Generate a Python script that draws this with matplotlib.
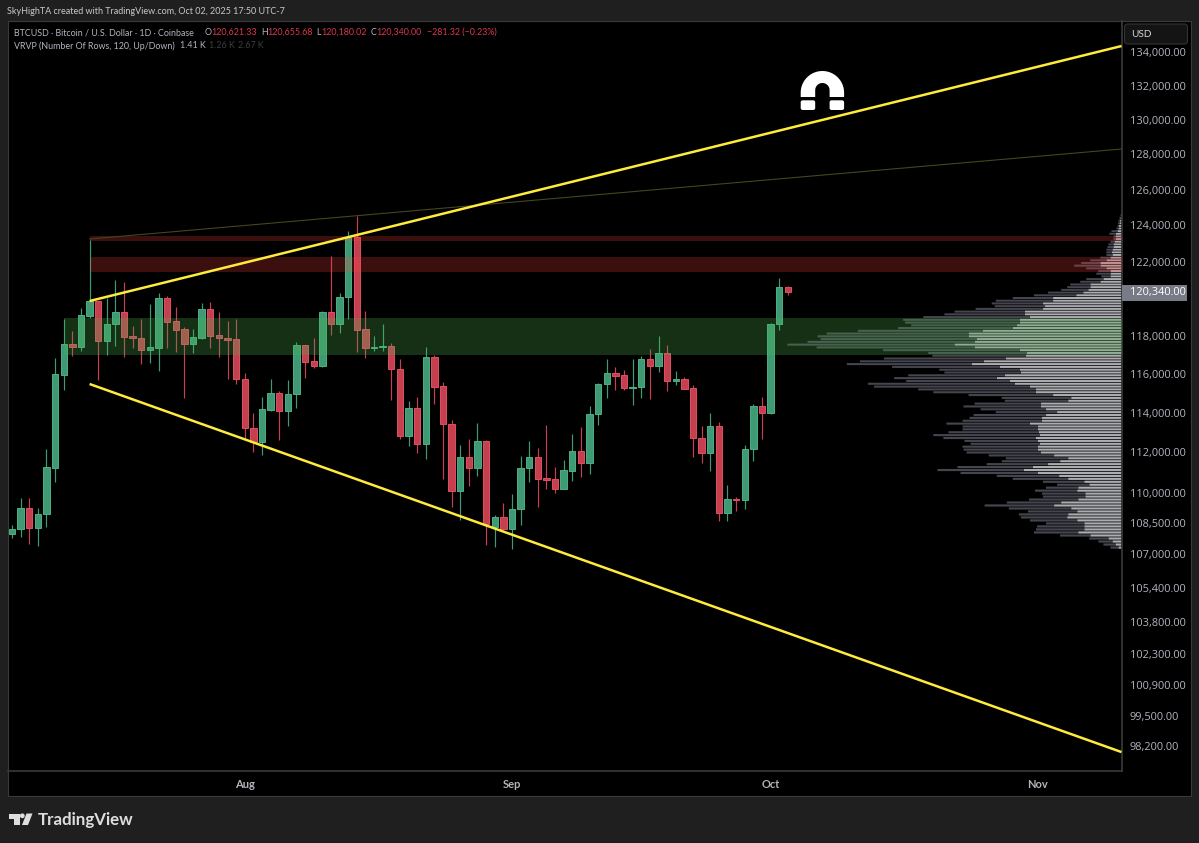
import numpy as np
import pandas as pd
import matplotlib
matplotlib.use("Agg")
import matplotlib.pyplot as plt
import matplotlib.dates as mdates
from matplotlib.patches import Rectangle, Circle, Polygon, FancyBboxPatch
from matplotlib.transforms import Affine2D

W, H = 1199, 843
BG = "#1f1f1f"
GREEN_BODY, GREEN_EDGE, GREEN_WICK = "#3f9a74", "#4cb088", "#3f9c72"
RED_BODY, RED_EDGE, RED_WICK = "#c4404f", "#e24e62", "#c83e52"
YELLOW = "#ffeb3b"

start_date = "2025-07-05"
opens = [107990,108215,109225,108250,108930,111235,115965,117570,117430,119055,
         119840,117710,118610,119250,117975,117890,117255,117380,120000,118770,
         118350,117590,117905,119410,118060,117905,117820,115725,113210,112500,
         114145,115020,114075,114965,117500,116660,116435,119250,118645,120075,
         123345,118350,117375,117430,117450,116260,112820,114265,112435,116870,
         115360,113430,110075,111750,111235,112553,108330,108783,108200,109206,
         111200,111750,110700,110650,110175,111065,112050,111482,113920,115483,
         116070,115930,115295,115330,116800,116435,117080,115655,115725,115260,
         112720,111965,113315,108995,109680,109630,112150,114335,114005,118610,120621.33]
highs = [108410,109715,109715,109255,112150,116820,118915,118260,119480,123180,
         119875,120000,120990,120880,118525,118900,119715,120270,120125,119515,
         118490,118350,119770,119805,119270,118770,118880,116035,113990,114795,
         115740,115105,115705,117655,117520,117905,119305,122300,120310,123700,
         124515,119305,117995,118610,117605,116765,114590,114795,117410,116975,
         115585,113635,112370,112670,113465,112620,108912,109470,109910,111798,
         112553,112235,113380,111283,111600,112920,113260,114350,115550,116800,
         116350,116190,116765,116940,117310,117995,117500,116140,115860,115415,
         113330,113975,113550,110370,109760,112368,114450,114830,118660,121100,120655.68]
lows = [107795,107845,107490,107410,108330,110535,115170,116940,117220,118950,
        115690,117010,117480,116905,117340,116520,116590,116175,117340,117170,
        114780,117080,117820,117375,116905,115725,115485,112620,112000,111865,
        114110,112620,113330,114230,115810,116330,116380,118046,118150,118915,
        117170,116850,117220,117200,114675,112685,112335,111950,111650,114470,
        110650,109270,108670,110340,110835,107457,107360,108170,107235,108395,
        110535,109285,110175,109990,110175,110585,110750,110915,113400,114760,
        115155,115155,114400,114760,114710,116105,115120,115430,115210,111765,
        111465,111065,108620,108605,109110,109206,111580,112690,113940,118315,120180.02]
closes = [108215,109225,108250,108945,111250,116000,117570,117430,119090,119840,
          117710,118630,119250,117960,117870,117255,117395,120000,118755,118330,
          117590,117925,119410,118010,117870,117800,115725,113210,112500,114180,
          115000,114075,114965,117500,116645,116435,119250,118645,120075,123365,
          118330,117375,117430,117465,116245,112820,114265,112435,116870,115345,
          113415,110075,111750,111235,112550,108460,108783,108200,109206,111200,
          111750,110668,110618,110175,111100,112050,111482,113940,115500,116070,
          115914,115295,115345,116800,116435,117080,115640,115740,115245,112705,
          111965,113315,108995,109665,109630,112170,114350,114005,118625,120600,120340]

# Visible-range volume profile, rows listed from the top price row down.
vp_top_price = 124694
vp_row_step = 146
vp_total = [0.5,1,2,3,3.5,4,5,10,12,8,8,11,13,14,15,15,15,21,31,40,47,35,23,25,20,35,41,51,54,60,
            73,87,108,125,129,126,145,166,176,197,217,215,209,222,262,293,302,299,312,332,303,237,192,188,236,260,273,228,181,176,
            212,226,214,252,246,202,187,152,119,116,146,157,140,125,147,151,158,174,158,158,172,187,177,156,150,158,157,154,132,115,
            119,134,163,183,160,124,108,78,64,75,86,79,78,92,114,136,112,93,102,100,91,75,84,85,87,61,32,23,18,11]
vp_up = [0.3,0.5,1,1.5,2,2.5,3,4,5.5,6,5.5,7,8,8,9,9.5,9,11,15,21,21,15,11,11,11,18,21,31,31,33,
         38,45,68,68,78,76,78,96,96,91,101,101,104,108,138,152,152,144,146,166,146,101,94,95,115,137,149,121,101,100,
         116,124,111,106,91,85,85,68,50,53,80,80,75,64,75,79,79,91,83,83,82,81,85,83,81,83,83,80,67,53,
         61,73,88,97,83,62,53,37,32,43,44,36,36,43,60,67,50,44,53,54,44,37,37,37,43,31,13,9,6,3]

# Zones: (first candle index, low price, high price)
red_zones = [(9, 123110, 123403), (9, 121410, 122247)]
green_zones = [(6, 117010, 118932)]
# Drawn lines: (start candle index, start price, end price at right edge)
upper_line = (9, 119859, 134372)
lower_line = (9, 115484, 97921)
thin_line = (9, 123237, 128310)

price_ticks = [134000,132000,130000,128000,126000,124000,122000,118000,116000,114000,
               112000,110000,108500,107000,105400,103800,102300,100900,99500,98200]
month_ticks = ["2025-08-01", "2025-09-01", "2025-10-01", "2025-11-01"]
month_labels = ["Aug", "Sep", "Oct", "Nov"]
last_close = 120340
header = "SkyHighTA created with TradingView.com, Oct 02, 2025 17:50 UTC-7"

plt.rcParams["font.family"] = ["Lato", "DejaVu Sans"]
fig = plt.figure(figsize=(W / 100, H / 100), dpi=100, facecolor=BG)
px = Affine2D().scale(1 / W, -1 / H).translate(0, 1) + fig.transFigure

def rect_for(x0, y0, x1, y1):
    return [x0 / W, 1 - y1 / H, (x1 - x0) / W, (y1 - y0) / H]

# Black pane behind everything
fig.add_artist(Rectangle((7.5, 21), 1183, 775, transform=px, fc="black", ec="#3a3a3a", lw=0.8, zorder=0))

dates = pd.date_range(start_date, periods=len(closes), freq="D")
xs = mdates.date2num(dates)
day_px = 8.62
xlim = (xs[0] - 4 / day_px, xs[0] + (1121.5 - 12) / day_px)
ylim = (97094, 135887)

# Volume profile axes, underneath the candles and zones
rect = rect_for(8, 21, 1121.5, 771)
axv = fig.add_axes(rect, zorder=1, facecolor="black")
axv.set_yscale("log")
axv.set_ylim(*ylim)
total = np.array(vp_total, float)
up = np.array(vp_up, float)
rows = vp_top_price - vp_row_step * np.arange(len(total))
b1 = axv.barh(rows, up, height=vp_row_step * 0.74, color="#acadb1", lw=0)
b2 = axv.barh(rows, total - up, left=up, height=vp_row_step * 0.74, color="#44454e", lw=0)
for patch in list(b1) + list(b2):
    patch.set_snap(False)
axv.set_xlim(total.max() / 0.30, 0)
axv.axis("off")

# Main axes
ax = fig.add_axes(rect, zorder=2)
ax.patch.set_visible(False)
ax.set_yscale("log")
ax.set_xlim(*xlim)
ax.set_ylim(*ylim)

o, h, l, c = map(np.array, (opens, highs, lows, closes))
rising = c >= o
ax.vlines(xs[rising], l[rising], h[rising], color=GREEN_WICK, lw=0.85, zorder=2)
ax.vlines(xs[~rising], l[~rising], h[~rising], color=RED_WICK, lw=0.85, zorder=2)
ax.bar(xs[rising], (c - o)[rising], bottom=o[rising], width=0.74, color=GREEN_BODY,
       edgecolor=GREEN_EDGE, lw=0.7, zorder=3)
ax.bar(xs[~rising], (o - c)[~rising], bottom=c[~rising], width=0.74, color=RED_BODY,
       edgecolor=RED_EDGE, lw=0.7, zorder=3)

for i0, lo, hi in red_zones:
    ax.fill_between([xs[i0], xlim[1]], lo, hi, color=(1, 0.25, 0.25), alpha=0.24, lw=0, zorder=4)
for i0, lo, hi in green_zones:
    ax.fill_between([xs[i0], xlim[1]], lo, hi, color=(0.30, 0.69, 0.31), alpha=0.28, lw=0, zorder=4)

ax.plot([xs[thin_line[0]], xlim[1]], thin_line[1:], color="#45451f", lw=0.8, zorder=5)
for line in (upper_line, lower_line):
    ax.plot([xs[line[0]], xlim[1]], line[1:], color=YELLOW, lw=1.8, zorder=6, solid_capstyle="butt")

ax.yaxis.tick_right()
ax.set_yticks(price_ticks)
ax.set_yticklabels([f"{v:,.2f}" for v in price_ticks], fontsize=7.9, color="#b2b5be", family=["Open Sans"])
ax.yaxis.set_minor_locator(matplotlib.ticker.NullLocator())
ax.yaxis.set_minor_formatter(matplotlib.ticker.NullFormatter())
ax.tick_params(axis="y", length=0, pad=6)
ax.set_xticks(mdates.date2num(pd.to_datetime(month_ticks)))
ax.set_xticklabels(month_labels, fontsize=8, color="#b2b5be", fontweight="bold")
ax.tick_params(axis="x", length=0, pad=6)
for side in ("top", "left"):
    ax.spines[side].set_visible(False)
for side in ("right", "bottom"):
    ax.spines[side].set_color("#3a3a3a")
    ax.spines[side].set_linewidth(1.2)

def ftext(x, y, s, color, size=6.4, **kw):
    fig.text(x / W, 1 - y / H, s, color=color, fontsize=size, va="center", ha=kw.pop("ha", "left"), zorder=10, **kw)

# Header and legend
ftext(7, 11, header, "#c9c9c9", size=6.45)
GREY, RED = "#b2b5be", "#d8394f"
ftext(14, 32.5, "BTCUSD · Bitcoin / U.S. Dollar · 1D · Coinbase", GREY)
for x_l, lab, x_v, val in [(205, "O", 211.5, opens[-1]), (261, "H", 267, highs[-1]),
                           (316.5, "L", 321, lows[-1]), (371, "C", 376.5, closes[-1])]:
    ftext(x_l, 32.5, lab, GREY)
    ftext(x_v, 32.5, f"{val:,.2f}", RED)
ftext(426.5, 32.5, "−281.32 (−0.23%)", RED)
ftext(14, 46, "VRVP (Number Of Rows, 120, Up/Down)", GREY)
ftext(179.5, 46, "1.41 K", GREY)
ftext(209, 46, "1.26 K", "#3d3f44")
ftext(238, 46, "2.67 K", "#3d3f44")

# Currency button
fig.add_artist(FancyBboxPatch((1124.5, 24), 63, 20, boxstyle="round,pad=0,rounding_size=3", transform=px,
                              fc="#141414", ec="#333333", lw=0.8, zorder=9))
ftext(1131, 34.5, "USD", "#d1d4dc", size=7.2)

# Last price label
fig.add_artist(Rectangle((1122, 285), 64.5, 16, transform=px, fc="#787b86", ec="none", zorder=9))
ftext(1130, 292.7, f"{last_close:,.2f}", "white", size=7.9, family=["Open Sans"])

# Magnet icon
t = np.linspace(np.pi, 0, 60)
outer = np.c_[822.4 + 21.7 * np.cos(t), 92.7 - 21.7 * np.sin(t)]
inner = np.c_[822.4 + 7.2 * np.cos(t[::-1]), 90.2 - 7.2 * np.sin(t[::-1])]
arch = np.vstack([[[800.7, 97]], outer, [[844.1, 97], [829.6, 97]], inner, [[815.2, 97]]])
fig.add_artist(Polygon(arch, closed=True, transform=px, fc="white", ec="none", zorder=9))
for x0 in (800.7, 829.6):
    fig.add_artist(FancyBboxPatch((x0, 100.3), 14.5, 9.7, boxstyle="round,pad=0,rounding_size=2", transform=px,
                                  fc="white", ec="none", zorder=9))

# TradingView logo
LOGO = "#dedede"
fig.add_artist(Polygon([(9, 813.5), (19.5, 813.5), (19.5, 825), (14, 825), (14, 818.5), (9, 818.5)],
                       transform=px, fc=LOGO, ec="none", zorder=9))
fig.add_artist(Circle((22.3, 815.8), 2.4, transform=px, fc=LOGO, ec="none", zorder=9))
fig.add_artist(Polygon([(26.5, 813.5), (32.5, 813.5), (28, 825), (22, 825)], transform=px, fc=LOGO, ec="none", zorder=9))
ftext(38, 820, "TradingView", LOGO, size=12.2, fontweight="bold", family=["Lato"])

fig.savefig("out.png", dpi=100, facecolor=BG)
